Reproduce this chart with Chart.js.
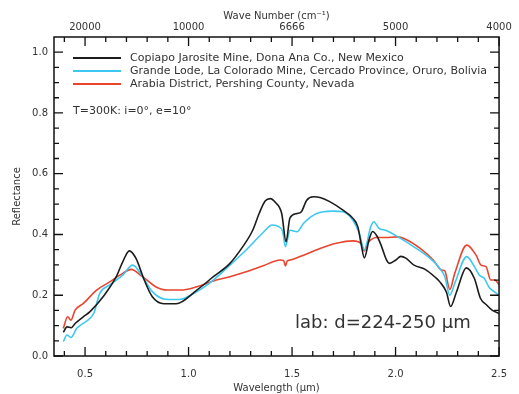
<!DOCTYPE html>
<html>
<head>
<meta charset="utf-8">
<script src="https://cdn.jsdelivr.net/npm/chart.js@4.4.1/dist/chart.umd.min.js"></script>
<style>
  html, body { margin: 0; padding: 0; background: #fff; }
  #wrap { width: 519px; height: 394px; }
</style>
</head>
<body>
<div id="wrap"><canvas id="spectra"></canvas></div>
<script>
// sample names (legend)
const sampleNames = [
  'Copiapo Jarosite Mine, Dona Ana Co., New Mexico',
  'Grande Lode, La Colorado Mine, Cercado Province, Oruro, Bolivia',
  'Arabia District, Pershing County, Nevada'
];

// black: Copiapo
const blackWl = [0.395, 0.413, 0.433, 0.452, 0.49, 0.524, 0.587, 0.651, 0.682, 0.714, 0.746, 0.786, 0.825, 0.881, 0.94,
  1.04, 1.12, 1.2, 1.262, 1.31, 1.341, 1.37, 1.395, 1.42, 1.45, 1.471, 1.49, 1.524, 1.545, 1.571, 1.603, 1.635, 1.682,
  1.746, 1.794, 1.818, 1.833, 1.849, 1.873, 1.889, 1.91, 1.93, 1.955, 1.97, 2.0, 2.026, 2.05, 2.087, 2.143, 2.19, 2.214,
  2.246, 2.266, 2.294, 2.342, 2.381, 2.41, 2.44, 2.468, 2.5];
const blackRefl = [0.078, 0.096, 0.093, 0.107, 0.128, 0.146, 0.195, 0.261, 0.31, 0.346, 0.321, 0.25, 0.195, 0.172, 0.172,
  0.217, 0.261, 0.305, 0.36, 0.414, 0.469, 0.51, 0.518, 0.505, 0.469, 0.376, 0.455, 0.469, 0.475, 0.513, 0.524, 0.522, 0.508,
  0.48, 0.453, 0.425, 0.371, 0.323, 0.385, 0.41, 0.395, 0.365, 0.318, 0.305, 0.315, 0.328, 0.322, 0.3, 0.285, 0.26, 0.244,
  0.21, 0.163, 0.21, 0.29, 0.255, 0.19, 0.168, 0.15, 0.14];

// cyan: Grande Lode
const cyanWl = [0.395, 0.413, 0.432, 0.46, 0.524, 0.545, 0.556, 0.571, 0.619, 0.682, 0.73, 0.778, 0.825, 0.889, 0.955,
  1.04, 1.12, 1.2, 1.278, 1.357, 1.405, 1.437, 1.455, 1.468, 1.49, 1.524, 1.556, 1.619, 1.698, 1.746, 1.794, 1.825, 1.849,
  1.88, 1.895, 1.92, 1.952, 2.024, 2.087, 2.167, 2.214, 2.238, 2.262, 2.286, 2.344, 2.381, 2.405, 2.429, 2.452, 2.476, 2.5];
const cyanRefl = [0.047, 0.069, 0.061, 0.091, 0.124, 0.145, 0.173, 0.206, 0.234, 0.266, 0.299, 0.261, 0.212, 0.187, 0.186,
  0.212, 0.25, 0.299, 0.349, 0.404, 0.431, 0.425, 0.41, 0.36, 0.414, 0.409, 0.437, 0.469, 0.477, 0.475, 0.447, 0.404, 0.349,
  0.425, 0.442, 0.42, 0.414, 0.387, 0.36, 0.321, 0.288, 0.261, 0.2, 0.239, 0.327, 0.294, 0.266, 0.255, 0.226, 0.212, 0.2];

// red: Arabia District
const redWl = [0.395, 0.416, 0.432, 0.452, 0.492, 0.556, 0.619, 0.682, 0.722, 0.778, 0.841, 0.897, 0.96, 1.04, 1.12,
  1.2, 1.278, 1.357, 1.444, 1.46, 1.468, 1.476, 1.492, 1.556, 1.635, 1.714, 1.794, 1.833, 1.849, 1.865, 1.88, 1.905, 1.952,
  2.008, 2.056, 2.119, 2.182, 2.222, 2.238, 2.262, 2.286, 2.344, 2.389, 2.413, 2.437, 2.46, 2.48, 2.5];
const redRefl = [0.091, 0.129, 0.118, 0.151, 0.173, 0.217, 0.244, 0.272, 0.285, 0.261, 0.228, 0.217, 0.217, 0.228, 0.247,
  0.261, 0.277, 0.296, 0.316, 0.314, 0.296, 0.312, 0.316, 0.332, 0.354, 0.371, 0.379, 0.371, 0.346, 0.372, 0.382, 0.39, 0.39,
  0.392, 0.382, 0.354, 0.316, 0.283, 0.28, 0.219, 0.272, 0.365, 0.332, 0.299, 0.294, 0.25, 0.25, 0.234];

// ticks
const xMajor = [0.5, 1.0, 1.5, 2.0, 2.5];
const xMinor = [0.4, 0.6, 0.7, 0.8, 0.9, 1.1, 1.2, 1.3, 1.4, 1.6, 1.7, 1.8, 1.9, 2.1, 2.2, 2.3, 2.4];
const yMajor = [0.0, 0.2, 0.4, 0.6, 0.8, 1.0];
const yMinor = [0.05, 0.1, 0.15, 0.25, 0.3, 0.35, 0.45, 0.5, 0.55, 0.65, 0.7, 0.75, 0.85, 0.9, 0.95];
const waveNumberLabels = ['20000', '10000', '6666', '5000', '4000'];

const lineColors = ['#1c1c1c', '#3cc8f0', '#e8442e'];
const FONT = 'DejaVu Sans';
const TXT = '#333';

function toPoints(xs, ys) {
  return xs.map((x, i) => ({ x: x, y: ys[i] }));
}

// frame, inward ticks, legend and notes
const decorPlugin = {
  id: 'decor',
  afterDatasetsDraw(chart) {
    const ctx = chart.ctx;
    const a = chart.chartArea;
    const xs = chart.scales.x;
    const ys = chart.scales.y;
    ctx.save();
    ctx.strokeStyle = '#111';
    ctx.lineWidth = 1.5;
    ctx.strokeRect(a.left, a.top, a.right - a.left, a.bottom - a.top);

    ctx.lineWidth = 1.3;
    ctx.beginPath();
    const xt = (v, len) => {
      const px = xs.getPixelForValue(v);
      ctx.moveTo(px, a.bottom); ctx.lineTo(px, a.bottom - len);
      ctx.moveTo(px, a.top); ctx.lineTo(px, a.top + len);
    };
    const yt = (v, len) => {
      const py = ys.getPixelForValue(v);
      ctx.moveTo(a.left, py); ctx.lineTo(a.left + len, py);
      ctx.moveTo(a.right, py); ctx.lineTo(a.right - len, py);
    };
    xMajor.forEach(v => xt(v, 9));
    xMinor.forEach(v => xt(v, 5));
    yMajor.forEach(v => yt(v, 9));
    yMinor.forEach(v => yt(v, 5));
    ctx.stroke();

    // legend
    ctx.font = '11px "' + FONT + '"';
    ctx.textBaseline = 'middle';
    ctx.textAlign = 'left';
    sampleNames.forEach((name, i) => {
      const y = a.top + 21 + i * 13;
      ctx.strokeStyle = lineColors[i];
      ctx.lineWidth = 2;
      ctx.beginPath();
      ctx.moveTo(a.left + 19, y);
      ctx.lineTo(a.left + 67, y);
      ctx.stroke();
      ctx.fillStyle = TXT;
      ctx.fillText(name, a.left + 76, y);
    });
    ctx.fillText('T=300K: i=0°, e=10°', a.left + 19, a.top + 74);

    ctx.font = '18px "' + FONT + '"';
    ctx.fillText('lab: d=224-250 µm', 295, 323);
    ctx.restore();
  }
};

const ctx = document.getElementById('spectra');
const spectraChart = new Chart(ctx, {
  type: 'scatter',
  data: {
    datasets: [
      { label: sampleNames[0], data: toPoints(blackWl, blackRefl), borderColor: lineColors[0] },
      { label: sampleNames[1], data: toPoints(cyanWl, cyanRefl), borderColor: lineColors[1] },
      { label: sampleNames[2], data: toPoints(redWl, redRefl), borderColor: lineColors[2] },
    ],
  },
  options: {
    responsive: true,
    maintainAspectRatio: false,
    animation: false,
    showLine: true,
    layout: { padding: { right: 13 } },
    elements: {
      point: { radius: 0 },
      line: { borderWidth: 1.6, cubicInterpolationMode: 'monotone', fill: false },
    },
    plugins: { legend: { display: false }, tooltip: { enabled: false } },
    scales: {
      x: {
        type: 'linear',
        position: 'bottom',
        min: 0.35,
        max: 2.5,
        afterBuildTicks: (s) => { s.ticks = xMajor.map(v => ({ value: v })); },
        afterFit: (s) => { s.height = 38; },
        grid: { display: false, drawTicks: false },
        border: { display: false },
        ticks: { padding: 12, color: TXT, font: { family: FONT, size: 10 }, callback: (v) => v.toFixed(1) },
        title: { display: true, text: 'Wavelength (µm)', color: TXT, font: { family: FONT, size: 10 }, padding: { top: 8, bottom: 0 } },
      },
      x2: {
        type: 'linear',
        position: 'top',
        min: 0.35,
        max: 2.5,
        afterBuildTicks: (s) => { s.ticks = xMajor.map(v => ({ value: v })); },
        afterFit: (s) => { s.height = 37; },
        grid: { display: false, drawTicks: false },
        border: { display: false },
        ticks: { padding: 4, color: TXT, font: { family: FONT, size: 10 }, callback: (v, i) => waveNumberLabels[i] },
        title: { display: true, text: 'Wave Number (cm⁻¹)', color: TXT, font: { family: FONT, size: 10 }, padding: { top: 10, bottom: 0 } },
      },
      y: {
        min: 0,
        max: 1.05,
        afterBuildTicks: (s) => { s.ticks = yMajor.map(v => ({ value: v })); },
        afterFit: (s) => { s.width = 54; },
        grid: { display: false, drawTicks: false },
        border: { display: false },
        ticks: { padding: 6, color: TXT, font: { family: FONT, size: 10 }, callback: (v) => v.toFixed(1) },
        title: { display: true, text: 'Reflectance', color: TXT, font: { family: FONT, size: 10 }, padding: { top: 11, bottom: 0 } },
      },
    },
  },
  plugins: [decorPlugin],
});
</script>
</body>
</html>
